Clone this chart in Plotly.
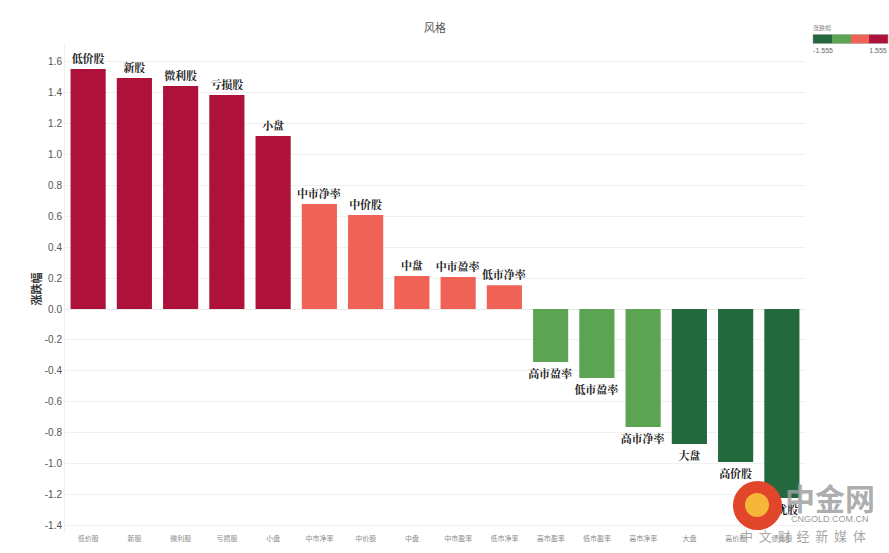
import plotly.graph_objects as go

categories = ["低价股", "新股", "微利股", "亏损股", "小盘", "中市净率", "中价股", "中盘",
              "中市盈率", "低市净率", "高市盈率", "低市盈率", "高市净率", "大盘", "高价股", "绩优股"]
values = [1.555, 1.496, 1.444, 1.386, 1.120, 0.680, 0.609, 0.214,
          0.207, 0.155, -0.343, -0.447, -0.764, -0.874, -0.991, -1.224]
y_ticks = [-1.4, -1.2, -1.0, -0.8, -0.6, -0.4, -0.2, 0.0, 0.2, 0.4, 0.6, 0.8, 1.0, 1.2, 1.4, 1.6]
color_min, color_max = -1.555, 1.555
legend_labels = ["-1.555", "1.555"]
chart_title = "风格"
measure_name = "涨跌幅"

palette = ["#24683E", "#5CA454", "#F06255", "#AE123A"]
colorscale = [
    [0.0, palette[0]], [0.25, palette[0]],
    [0.25, palette[1]], [0.5, palette[1]],
    [0.5, palette[2]], [0.75, palette[2]],
    [0.75, palette[3]], [1.0, palette[3]],
]

L, R, T, B = 65, 84, 45, 20
W, H = 889, 553
PW, PH = W - L - R, H - T - B


def px(x):
    return (x - L) / PW


def py(y):
    return (H - B - y) / PH


# legend tick labels sit inside the bar ends (label centres ~10px in from each end)
cb_len = 75
label_inset = (color_max - color_min) * 10 / cb_len

fig = go.Figure()
fig.add_trace(go.Bar(
    x=categories,
    y=values,
    text=categories,
    textposition="outside",
    constraintext="none",
    textfont=dict(family="Noto Serif CJK SC, Noto Sans CJK SC", size=11, color="#222222", weight="bold"),
    cliponaxis=False,
    marker=dict(
        color=values,
        colorscale=colorscale,
        cmin=color_min,
        cmax=color_max,
        line=dict(width=0),
        colorbar=dict(
            orientation="h",
            x=px(813), xanchor="left",
            y=py(51), yanchor="bottom",
            xpad=0, ypad=0,
            len=cb_len, lenmode="pixels",
            thickness=9,
            outlinewidth=0.5, outlinecolor="#999999",
            tickvals=[color_min + label_inset, color_max - label_inset],
            ticktext=legend_labels,
            ticks="",
            tickfont=dict(size=7, color="#666666", family="Liberation Sans"),
        ),
    ),
    hoverinfo="x+y",
))

fig.update_layout(
    width=W, height=H,
    margin=dict(l=L, r=R, t=T, b=B, autoexpand=False),
    paper_bgcolor="white",
    plot_bgcolor="white",
    bargap=0.24,
    showlegend=False,
    font=dict(family="Noto Sans CJK SC"),
)

# chart title
fig.add_annotation(xref="paper", yref="paper", x=px(435), y=py(27), xanchor="center", yanchor="middle",
                   text=chart_title, showarrow=False,
                   font=dict(size=11, color="#555555", family="Noto Sans CJK SC"))
# colour legend title
fig.add_annotation(xref="paper", yref="paper", x=px(811), y=py(28), xanchor="left", yanchor="middle",
                   text=measure_name, showarrow=False,
                   font=dict(size=6, color="#888888", family="Noto Sans CJK SC"))

fig.update_xaxes(
    tickfont=dict(size=7, color="#8a8a8a", family="Noto Sans CJK SC"),
    showgrid=False,
    showline=False,
    ticks="",
)
fig.update_yaxes(
    range=[-1.45, 1.71],
    tickvals=y_ticks,
    ticktext=[f"{v:.1f}" for v in y_ticks],
    tickfont=dict(size=10, color="#555555", family="Liberation Sans"),
    showgrid=True, gridcolor="#f0f0f0", gridwidth=1,
    zeroline=True, zerolinecolor="#e8e8e8", zerolinewidth=1,
    showline=True, linecolor="#eeeeee", linewidth=1,
    ticks="",
    title=dict(text=measure_name, standoff=0,
               font=dict(size=11, color="#333333", family="Noto Sans CJK SC", weight="bold")),
)

# watermark (中金网)
fig.add_shape(type="circle", xref="paper", yref="paper",
              x0=px(733), x1=px(782), y0=py(530), y1=py(481),
              fillcolor="#E2462A", line=dict(width=0), layer="above")
fig.add_shape(type="circle", xref="paper", yref="paper",
              x0=px(745), x1=px(769), y0=py(517), y1=py(493),
              fillcolor="#F5B63A", line=dict(width=0), layer="above")
fig.add_annotation(xref="paper", yref="paper", x=px(830), y=py(497), xanchor="center", yanchor="middle",
                   text="中金网", showarrow=False,
                   font=dict(size=30, color="rgba(160,160,160,0.85)", family="Noto Sans CJK SC", weight="bold"))
fig.add_annotation(xref="paper", yref="paper", x=px(830), y=py(519), xanchor="center", yanchor="middle",
                   text="CNGOLD.COM.CN", showarrow=False,
                   font=dict(size=9, color="rgba(140,140,140,0.9)", family="Liberation Sans"))
fig.add_annotation(xref="paper", yref="paper", x=px(803), y=py(535), xanchor="center", yanchor="middle",
                   text="中&nbsp;&nbsp;文&nbsp;&nbsp;财&nbsp;&nbsp;经&nbsp;&nbsp;新&nbsp;&nbsp;媒&nbsp;&nbsp;体",
                   showarrow=False,
                   font=dict(size=13, color="rgba(150,150,150,0.85)", family="Noto Sans CJK SC"))

fig.write_html("out.html", config={"displayModeBar": False},
               post_script="document.body.style.margin='0px';document.body.style.overflow='hidden';")
